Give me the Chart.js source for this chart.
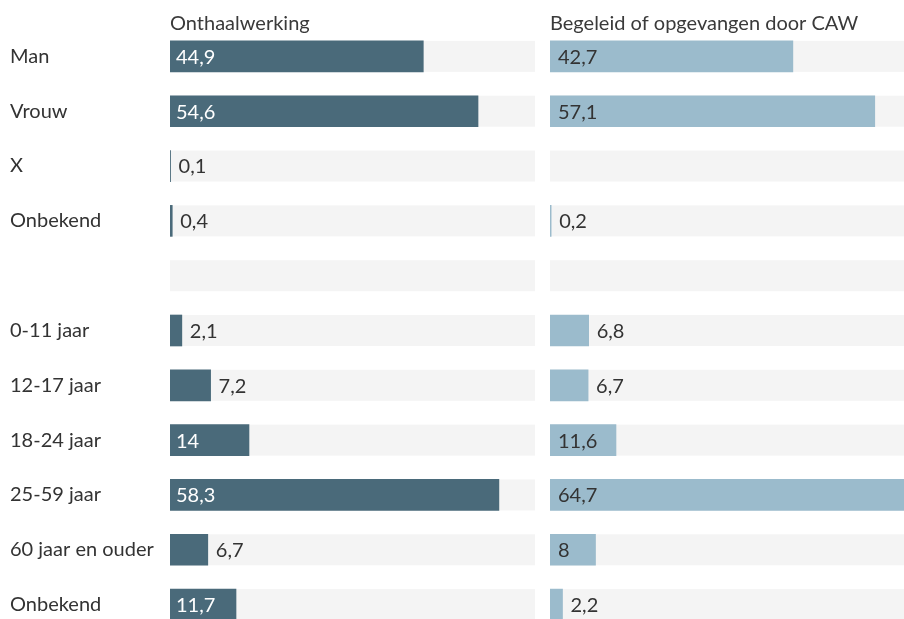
<!DOCTYPE html>
<html>
<head>
<meta charset="utf-8">
<script src="https://cdn.jsdelivr.net/npm/chart.js@4/dist/chart.umd.min.js"></script>
<style>
  html, body { margin: 0; padding: 0; background: #fff; overflow: hidden; }
  #wrap { position: relative; width: 904px; height: 619px; overflow: hidden; }
  #left { position: absolute; left: 0; top: 0; }
  #right { position: absolute; left: 550px; top: 0; }
</style>
</head>
<body>
<div id="wrap">
  <canvas id="left" width="535" height="648"></canvas>
  <canvas id="right" width="368" height="648"></canvas>
</div>
<script>
// Row labels (the empty label is the spacer between gender and age groups)
const categories = ['Man', 'Vrouw', 'X', 'Onbekend', '', '0-11 jaar', '12-17 jaar', '18-24 jaar', '25-59 jaar', '60 jaar en ouder', 'Onbekend'];

// Percentages per group
const onthaalwerking = [44.9, 54.6, 0.1, 0.4, null, 2.1, 7.2, 14, 58.3, 6.7, 11.7];
const caw = [42.7, 57.1, null, 0.2, null, 6.8, 6.7, 11.6, 64.7, 8, 2.2];

const panelTitles = ['Onthaalwerking', 'Begeleid of opgevangen door CAW'];

// Both panels share one scale, running up to the largest value
const axisMax = Math.max(...onthaalwerking, ...caw);

const FONT = 'Lato, "Noto Sans", sans-serif';
const TEXT = '#333333';
const BAR_H = 31;

// Light grey track behind every row
const trackPlugin = {
  id: 'tracks',
  beforeDatasetsDraw(chart, args, opts) {
    const { ctx, chartArea, scales: { y } } = chart;
    ctx.save();
    ctx.fillStyle = opts.color;
    chart.data.labels.forEach((_, i) => {
      const yc = y.getPixelForValue(i);
      ctx.fillRect(chartArea.left, yc - BAR_H / 2, chartArea.right - chartArea.left, BAR_H);
    });
    ctx.restore();
  }
};

// Column heading above each panel
const headingPlugin = {
  id: 'heading',
  afterDraw(chart, args, opts) {
    const { ctx, chartArea } = chart;
    ctx.save();
    ctx.font = '20px ' + FONT;
    ctx.fillStyle = opts.color;
    ctx.textAlign = 'left';
    ctx.textBaseline = 'alphabetic';
    ctx.fillText(opts.text, chartArea.left, opts.baseline);
    ctx.restore();
  }
};

// Value labels: inside the bar when they fit, otherwise just after it
const valuePlugin = {
  id: 'values',
  afterDatasetsDraw(chart, args, opts) {
    const { ctx } = chart;
    const data = chart.data.datasets[0].data;
    const meta = chart.getDatasetMeta(0);
    ctx.save();
    ctx.font = '20px ' + FONT;
    ctx.textAlign = 'left';
    ctx.textBaseline = 'middle';
    meta.data.forEach((bar, i) => {
      const v = data[i];
      if (v === null || v === undefined) return;
      const { x, base, y } = bar.getProps(['x', 'base', 'y'], true);
      const text = String(v).replace('.', ',');
      const w = ctx.measureText(text).width;
      const inside = w + 16 <= x - base;
      ctx.fillStyle = inside ? opts.insideColor : TEXT;
      ctx.fillText(text, inside ? base + opts.inset : x + 8, y + 1);
    });
    ctx.restore();
  }
};

function makePanel(id, values, color, heading, withLabels, insideColor, inset) {
  return new Chart(document.getElementById(id), {
    type: 'bar',
    data: {
      labels: categories,
      datasets: [{
        data: values,
        backgroundColor: color,
        borderWidth: 0,
        barThickness: BAR_H
      }]
    },
    options: {
      indexAxis: 'y',
      responsive: false,
      animation: false,
      devicePixelRatio: 1,
      layout: { padding: { top: 29, bottom: 16, left: withLabels ? 10 : 0, right: 0 } },
      scales: {
        x: { display: false, min: 0, max: axisMax },
        y: {
          display: withLabels,
          grid: { display: false },
          border: { display: false },
          ticks: {
            crossAlign: 'far',
            padding: 0,
            color: TEXT,
            font: { family: FONT, size: 20 }
          },
          afterFit(scale) { if (withLabels) scale.width = 160; }
        }
      },
      plugins: {
        legend: { display: false },
        tooltip: { enabled: false },
        tracks: { color: '#f4f4f4' },
        heading: { text: heading, color: '#3a3a3a', baseline: 30 },
        values: { insideColor: insideColor, inset: inset }
      }
    },
    plugins: [trackPlugin, valuePlugin, headingPlugin]
  });
}

function build() {
  makePanel('left', onthaalwerking, '#4a6a7a', panelTitles[0], true, '#ffffff', 6);
  makePanel('right', caw, '#9bbbcc', panelTitles[1], false, TEXT, 8);
}

if (document.fonts && document.fonts.load) {
  document.fonts.load('20px Lato').then(build, build);
} else {
  build();
}
</script>
</body>
</html>
